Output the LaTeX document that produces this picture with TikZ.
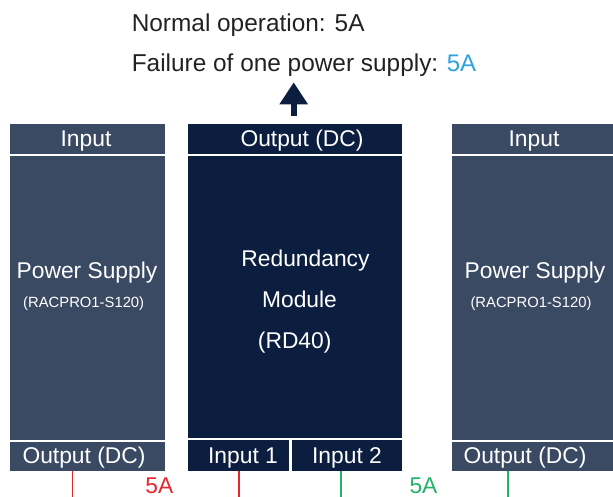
\documentclass[tikz,border=0pt]{standalone}
\usepackage{fontspec}
\setmainfont{Liberation Sans}
\usetikzlibrary{arrows.meta}
\definecolor{psublue}{HTML}{3B4A63}
\definecolor{modnavy}{HTML}{0B1E3F}
\definecolor{feedred}{HTML}{E8262F}
\definecolor{feedgreen}{HTML}{23B26B}
\definecolor{loadblue}{HTML}{2AA4DC}
\definecolor{inkgray}{HTML}{222222}
\begin{document}
\begin{tikzpicture}[x=1pt,y=-1pt,
  unitbox/.style={draw=none, inner sep=0, outer sep=0, anchor=north west},
  psubox/.style={unitbox, fill=psublue},
  modbox/.style={unitbox, fill=modnavy},
  sepline/.style={draw=white, line width=2.4pt},
  boxtext/.style={text=white, inner sep=0, anchor=base, font=\fontsize{22.8}{26}\selectfont},
  smalltext/.style={text=white, inner sep=0, anchor=base, font=\fontsize{14.8}{17}\selectfont},
  toptext/.style={text=inkgray, inner sep=0, anchor=base west, font=\fontsize{24.4}{28}\selectfont},
  amps/.style={inner sep=0, anchor=base, font=\fontsize{22.8}{26}\selectfont},
  feed/.style={line width=1.5pt},
  uparrow/.style={draw=modnavy, line width=6pt, -{Triangle[width=27pt,length=22pt]}}]
\useasboundingbox (0,0) rectangle (613,497);

% the three units
\node[psubox, minimum width=155pt, minimum height=346.7pt] (psL) at (10,124) {};
\node[modbox, minimum width=213.7pt, minimum height=346.4pt] (rd) at (188,124.3) {};
\node[psubox, minimum width=161pt, minimum height=346.7pt] (psR) at (452,124) {};

% header and footer separators
\draw[sepline] ([yshift=-31pt]psL.north west) -- ([yshift=-31pt]psL.north east);
\draw[sepline] ([yshift=30pt]psL.south west) -- ([yshift=30pt]psL.south east);
\draw[sepline] ([yshift=-30.7pt]rd.north west) -- ([yshift=-30.7pt]rd.north east);
\draw[sepline] ([yshift=31.7pt]rd.south west) -- ([yshift=31.7pt]rd.south east);
\coordinate (divtop) at (290.5,439);
\draw[sepline] (divtop) -- (divtop |- rd.south);
\draw[sepline] ([yshift=-31pt]psR.north west) -- ([yshift=-31pt]psR.north east);
\draw[sepline] ([yshift=30pt]psR.south west) -- ([yshift=30pt]psR.south east);

% left power supply
\node[boxtext] (psLin) at (86,147) {Input};
\node[boxtext] (psLname) at (87,278.3) {Power Supply};
\node[smalltext] (psLtype) at (83.7,307) {(RACPRO1-S120)};
\node[boxtext] (psLout) at (84,463) {Output (DC)};

% redundancy module
\node[boxtext] (rdout) at (302,147) {Output (DC)};
\node[boxtext] (rdname1) at (305.5,266) {Redundancy};
\node[boxtext] (rdname2) at (299.5,307.3) {Module};
\node[boxtext] (rdname3) at (294.7,348.5) {(RD40)};
\node[boxtext] (rdin1) at (243,463) {Input 1};
\node[boxtext] (rdin2) at (347,463) {Input 2};

% right power supply
\node[boxtext] (psRin) at (534,147) {Input};
\node[boxtext] (psRname) at (535,278.3) {Power Supply};
\node[smalltext] (psRtype) at (531,307) {(RACPRO1-S120)};
\node[boxtext] (psRout) at (525,463) {Output (DC)};

% load current
\node[toptext] (normal) at (131.6,31.7) {Normal operation: 5A};
\node[toptext] (failure) at (131.6,71.7) {Failure of one power supply:};
\node[amps, text=loadblue, anchor=base west, font=\fontsize{24}{28}\selectfont] (failamps) at (446.6,71.7) {5A};
\coordinate (arrowfoot) at (293.7,115.7);
\coordinate (arrowtip) at (293.7,82.3);
\draw[uparrow] (arrowfoot) -- (arrowtip);

% supply feeds
\coordinate (feedLa) at (72.7,497);
\coordinate (feedLb) at (239,497);
\coordinate (feedRa) at (341,497);
\coordinate (feedRb) at (508,497);
\draw[feed, draw=feedred] (psL.south -| feedLa) -- (feedLa);
\draw[feed, draw=feedred] (rd.south -| feedLb) -- (feedLb);
\draw[feed, draw=feedgreen] (rd.south -| feedRa) -- (feedRa);
\draw[feed, draw=feedgreen] (psR.south -| feedRb) -- (feedRb);
\node[amps, text=feedred] (ampsL) at (159.4,493) {5A};
\node[amps, text=feedgreen] (ampsR) at (423.5,493) {5A};
\end{tikzpicture}
\end{document}
